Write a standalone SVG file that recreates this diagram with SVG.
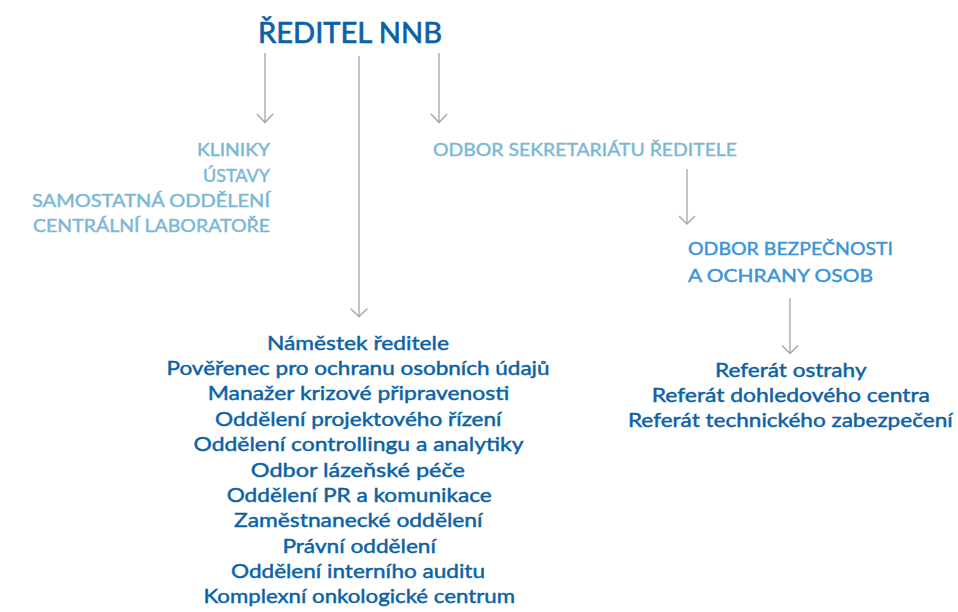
<svg xmlns="http://www.w3.org/2000/svg" width="958" height="612" viewBox="0 0 958 612">
<defs>
<style>
text{font-family:Lato,"Noto Sans","Liberation Sans",sans-serif;font-weight:400;stroke-width:0.45px;}
.title{font-size:29px;fill:#0a62a6;stroke:#0a62a6;stroke-width:0.7px;}
.light{font-size:18px;fill:#7cb8d4;stroke:#7cb8d4;}
.mid{font-size:18px;fill:#3a95da;stroke:#3a95da;}
.list{font-size:19.5px;fill:#0b62a6;stroke:#0b62a6;text-anchor:middle;}
.conn line{stroke:#a3a3a3;stroke-width:1.3;fill:none;}
.conn polyline{stroke:#a3a3a3;stroke-width:1.3;fill:none;}
</style>
</defs>
<rect width="958" height="612" fill="#ffffff"/>
<g id="reditel"><text class="title" x="258" y="43" textLength="184" lengthAdjust="spacingAndGlyphs">ŘEDITEL NNB</text></g>
<g id="kliniky">
<text class="light" x="270" y="156" text-anchor="end" textLength="73" lengthAdjust="spacingAndGlyphs">KLINIKY</text>
<text class="light" x="270" y="181.5" text-anchor="end" textLength="67" lengthAdjust="spacingAndGlyphs">ÚSTAVY</text>
<text class="light" x="270" y="207" text-anchor="end" textLength="238" lengthAdjust="spacingAndGlyphs">SAMOSTATNÁ ODDĚLENÍ</text>
<text class="light" x="270" y="232" text-anchor="end" textLength="237" lengthAdjust="spacingAndGlyphs">CENTRÁLNÍ LABORATOŘE</text>
</g>
<g id="sekretariat"><text class="light" x="433" y="155.5" textLength="304" lengthAdjust="spacingAndGlyphs">ODBOR SEKRETARIÁTU ŘEDITELE</text></g>
<g id="bezpecnost">
<text class="mid" x="688" y="255" textLength="205" lengthAdjust="spacingAndGlyphs">ODBOR BEZPEČNOSTI</text>
<text class="mid" x="688" y="281.5" textLength="185" lengthAdjust="spacingAndGlyphs">A OCHRANY OSOB</text>
</g>
<g id="namestek">
<text class="list" x="358" y="349.5" textLength="182" lengthAdjust="spacingAndGlyphs">Náměstek ředitele</text>
<text class="list" x="358" y="375" textLength="383" lengthAdjust="spacingAndGlyphs">Pověřenec pro ochranu osobních údajů</text>
<text class="list" x="358.5" y="400.3" textLength="301.5" lengthAdjust="spacingAndGlyphs">Manažer krizové připravenosti</text>
<text class="list" x="358.3" y="425.7" textLength="286.5" lengthAdjust="spacingAndGlyphs">Oddělení projektového řízení</text>
<text class="list" x="358.5" y="451" textLength="330" lengthAdjust="spacingAndGlyphs">Oddělení controllingu a analytiky</text>
<text class="list" x="357.8" y="476.5" textLength="214" lengthAdjust="spacingAndGlyphs">Odbor lázeňské péče</text>
<text class="list" x="359.2" y="501.8" textLength="265" lengthAdjust="spacingAndGlyphs">Oddělení PR a komunikace</text>
<text class="list" x="358.3" y="527.2" textLength="248.5" lengthAdjust="spacingAndGlyphs">Zaměstnanecké oddělení</text>
<text class="list" x="359.2" y="552.6" textLength="153.5" lengthAdjust="spacingAndGlyphs">Právní oddělení</text>
<text class="list" x="358" y="578" textLength="254" lengthAdjust="spacingAndGlyphs">Oddělení interního auditu</text>
<text class="list" x="359.2" y="603.3" textLength="311.5" lengthAdjust="spacingAndGlyphs">Komplexní onkologické centrum</text>
</g>
<g id="referaty">
<text class="list" x="790.8" y="377" textLength="151.5" lengthAdjust="spacingAndGlyphs">Referát ostrahy</text>
<text class="list" x="790.8" y="402" textLength="278.3" lengthAdjust="spacingAndGlyphs">Referát dohledového centra</text>
<text class="list" x="790.3" y="427" textLength="324.7" lengthAdjust="spacingAndGlyphs">Referát technického zabezpečení</text>
</g>
<g id="connectors" class="conn">
<line x1="265" y1="53" x2="265" y2="122.5"/>
<polyline points="257,114 265,122.5 273,114"/>
<line x1="359" y1="56" x2="359" y2="316.5"/>
<polyline points="350.5,308.5 359,316.5 367.5,308.5"/>
<line x1="439" y1="53" x2="439" y2="122.5"/>
<polyline points="431,114 439,122.5 447,114"/>
<line x1="687" y1="169" x2="687" y2="224"/>
<polyline points="679,216 687,224 695,216"/>
<line x1="790" y1="298" x2="790" y2="353.5"/>
<polyline points="782,345.5 790,353.5 798,345.5"/>
</g>
</svg>
